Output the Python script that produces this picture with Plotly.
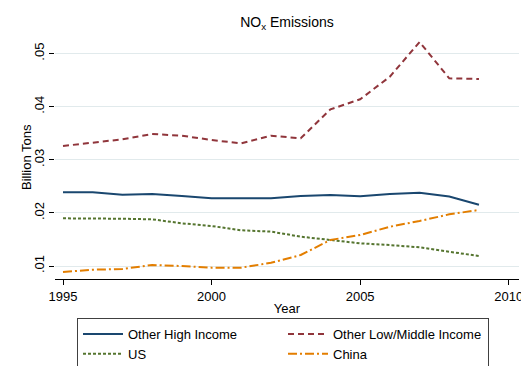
import plotly.graph_objects as go

# NOx emissions by region, billion tons
years = list(range(1995, 2010))
other_high = [0.0239, 0.0239, 0.02343, 0.02356, 0.02318, 0.02275, 0.02275, 0.02278,
              0.02318, 0.02337, 0.02313, 0.02356, 0.0238, 0.0231, 0.02155]
other_low_mid = [0.0326, 0.03322, 0.03386, 0.03486, 0.03454, 0.03373, 0.0331, 0.03455,
                 0.03405, 0.0395, 0.04139, 0.04565, 0.05218, 0.04534, 0.04522]
us = [0.01898, 0.019, 0.0189, 0.01879, 0.01804, 0.01753, 0.01672, 0.01648,
      0.01552, 0.0149, 0.01427, 0.01395, 0.01352, 0.01269, 0.01188]
china = [0.00887, 0.0093, 0.00944, 0.01019, 0.01, 0.00969, 0.00969, 0.0106,
         0.01207, 0.0149, 0.01584, 0.0174, 0.01847, 0.01973, 0.02055]

y_ticks = [0.01, 0.02, 0.03, 0.04, 0.05]
y_tick_labels = [".01", ".02", ".03", ".04", ".05"]
x_ticks = [1995, 2000, 2005, 2010]

FONT = "Liberation Sans, Arial, sans-serif"

series = [
    ("Other High Income", other_high, "#1a476f", "solid"),
    ("Other Low/Middle Income", other_low_mid, "#90353b", "6px,4px"),
    ("US", us, "#55752f", "3px,2px"),
    ("China", china, "#e37e00", "9px,3px,2px,3px"),
]

fig = go.Figure()
for name, vals, color, dash in series:
    fig.add_trace(go.Scatter(
        x=years, y=vals, name=name, mode="lines",
        line=dict(color=color, width=2, dash=dash),
    ))

W, H = 521, 366
L, R, T, B = 55, 2, 35, 87
plot_w = W - L - R
plot_h = H - T - B
px_per_year = 29.7
px_per_unit = 5310.0

fig.update_layout(
    width=W, height=H,
    margin=dict(l=L, r=R, t=T, b=B, pad=0, autoexpand=False),
    paper_bgcolor="white", plot_bgcolor="white",
    font=dict(family=FONT, size=13, color="#000000"),
    title=dict(text="NO<sub>x</sub> Emissions", x=(L + plot_w / 2) / W, xanchor="center",
               xref="container", yref="container", y=1 - 22 / H, yanchor="middle",
               font=dict(size=14, family=FONT, color="#000000")),
    showlegend=True,
    legend=dict(
        orientation="h", x=(77 - L) / plot_w, y=-(318 - (T + plot_h)) / plot_h,
        xanchor="left", yanchor="top",
        bordercolor="#404040", borderwidth=1, bgcolor="white",
        entrywidth=150, entrywidthmode="pixels",
        font=dict(size=13, family=FONT, color="#000000"),
        tracegroupgap=0, itemwidth=40,
    ),
    annotations=[dict(
        text="Billion Tons", textangle=-90, xref="paper", yref="paper",
        x=(26 - L) / plot_w, y=0.5, xanchor="center", yanchor="middle",
        showarrow=False, font=dict(size=13, family=FONT, color="#000000"),
    )],
)

fig.update_xaxes(
    range=[1995 - (63 - L) / px_per_year, 2010 + (W - R - 508.7) / px_per_year],
    tickvals=x_ticks, ticks="outside", ticklen=5, tickcolor="#000000",
    ticklabeloverflow="allow",
    showline=True, linecolor="#000000", linewidth=1,
    showgrid=False, zeroline=False,
    tickfont=dict(size=13),
    title=dict(text="Year", font=dict(size=13), standoff=1),
)
y_lo = 0.01 - (279 - 266) / px_per_unit
y_hi = 0.01 + (266 - T) / px_per_unit
fig.update_yaxes(
    range=[y_lo, y_hi],
    tickvals=y_ticks, ticktext=y_tick_labels, tickangle=-90,
    ticks="outside", ticklen=5, tickcolor="#000000",
    showline=False, showgrid=True, gridcolor="#e1eaec", gridwidth=1,
    zeroline=False, tickfont=dict(size=13),
)

fig.write_html("out.html")
